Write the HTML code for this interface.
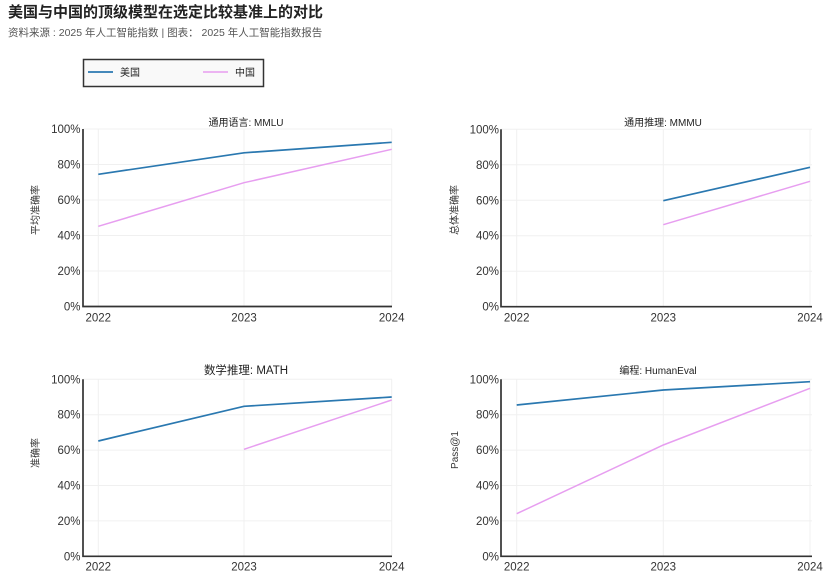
<!DOCTYPE html>
<html>
<head>
<meta charset="utf-8">
<style>
html,body{margin:0;padding:0;background:#fff;}
body{width:830px;height:578px;overflow:hidden;font-family:"Liberation Sans","Noto Sans CJK SC",sans-serif;}
</style>
</head>
<body>
<svg width="830" height="578" viewBox="0 0 830 578" xmlns="http://www.w3.org/2000/svg" style="display:block;font-family:'Liberation Sans','Noto Sans CJK SC',sans-serif;">
  <rect width="830" height="578" fill="#fff"/>
  <!-- Title -->
  <text x="8" y="17" font-size="15" font-weight="bold" fill="#222">美国与中国的顶级模型在选定比较基准上的对比</text>
  <text x="8" y="36" font-size="10.5" fill="#555">资料来源 : 2025 年人工智能指数 | 图表： 2025 年人工智能指数报告</text>

  <!-- Legend -->
  <rect x="83.5" y="59.5" width="180" height="27" fill="#f9f9f9" stroke="#333" stroke-width="1.5"/>
  <line x1="88" y1="72" x2="113" y2="72" stroke="#2a78b0" stroke-width="1.8"/>
  <text x="120" y="76" font-size="10" fill="#222">美国</text>
  <line x1="203" y1="72" x2="228" y2="72" stroke="#e79ef0" stroke-width="1.6"/>
  <text x="235" y="76" font-size="10" fill="#222">中国</text>

  <!-- ========== Chart 1 ========== -->
  <g>
    <g stroke="#f0f0f0" stroke-width="1">
      <line x1="83" y1="129" x2="392" y2="129"/>
      <line x1="83" y1="164.5" x2="392" y2="164.5"/>
      <line x1="83" y1="200" x2="392" y2="200"/>
      <line x1="83" y1="235.5" x2="392" y2="235.5"/>
      <line x1="83" y1="271" x2="392" y2="271"/>
      <line x1="98.3" y1="129" x2="98.3" y2="306.5"/>
      <line x1="244" y1="129" x2="244" y2="306.5"/>
      <line x1="391.7" y1="129" x2="391.7" y2="306.5"/>
    </g>
    <text x="246" y="126" font-size="10" fill="#222" text-anchor="middle">通用语言: MMLU</text>
    <g font-size="11.5" fill="#333" text-anchor="end">
      <text x="80.5" y="133">100%</text>
      <text x="80.5" y="168.5">80%</text>
      <text x="80.5" y="204">60%</text>
      <text x="80.5" y="239.5">40%</text>
      <text x="80.5" y="275">20%</text>
      <text x="80.5" y="310.5">0%</text>
    </g>
    <g font-size="11.5" fill="#333" text-anchor="middle">
      <text x="98.3" y="321.5">2022</text>
      <text x="244" y="321.5">2023</text>
      <text x="391.7" y="321.5">2024</text>
    </g>
    <text transform="translate(39,210) rotate(-90)" font-size="10" fill="#333" text-anchor="middle">平均准确率</text>
    <polyline points="98.3,174.3 244,152.8 391.7,142.3" fill="none" stroke="#2a78b0" stroke-width="1.7"/>
    <polyline points="98.3,226.3 244,182.7 391.7,149.3" fill="none" stroke="#e79ef0" stroke-width="1.5"/>
    <path d="M83,129 V306.5 H392" fill="none" stroke="#333" stroke-width="1.7"/>
  </g>

  <!-- ========== Chart 2 ========== -->
  <g>
    <g stroke="#f0f0f0" stroke-width="1">
      <line x1="501" y1="129.3" x2="812" y2="129.3"/>
      <line x1="501" y1="164.8" x2="812" y2="164.8"/>
      <line x1="501" y1="200.3" x2="812" y2="200.3"/>
      <line x1="501" y1="235.7" x2="812" y2="235.7"/>
      <line x1="501" y1="271.2" x2="812" y2="271.2"/>
      <line x1="516.7" y1="129.3" x2="516.7" y2="306.7"/>
      <line x1="663.3" y1="129.3" x2="663.3" y2="306.7"/>
      <line x1="810" y1="129.3" x2="810" y2="306.7"/>
    </g>
    <text x="663" y="126" font-size="10" fill="#222" text-anchor="middle">通用推理: MMMU</text>
    <g font-size="11.5" fill="#333" text-anchor="end">
      <text x="499" y="133.3">100%</text>
      <text x="499" y="168.8">80%</text>
      <text x="499" y="204.3">60%</text>
      <text x="499" y="239.7">40%</text>
      <text x="499" y="275.2">20%</text>
      <text x="499" y="310.7">0%</text>
    </g>
    <g font-size="11.5" fill="#333" text-anchor="middle">
      <text x="516.7" y="321.5">2022</text>
      <text x="663.3" y="321.5">2023</text>
      <text x="810" y="321.5">2024</text>
    </g>
    <text transform="translate(458,210) rotate(-90)" font-size="10" fill="#333" text-anchor="middle">总体准确率</text>
    <polyline points="663.3,200.7 810,167.3" fill="none" stroke="#2a78b0" stroke-width="1.7"/>
    <polyline points="663.3,224.7 810,181.3" fill="none" stroke="#e79ef0" stroke-width="1.5"/>
    <path d="M501,129.3 V306.7 H812" fill="none" stroke="#333" stroke-width="1.7"/>
  </g>

  <!-- ========== Chart 3 ========== -->
  <g>
    <g stroke="#f0f0f0" stroke-width="1">
      <line x1="83" y1="379.3" x2="392" y2="379.3"/>
      <line x1="83" y1="414.7" x2="392" y2="414.7"/>
      <line x1="83" y1="450.1" x2="392" y2="450.1"/>
      <line x1="83" y1="485.5" x2="392" y2="485.5"/>
      <line x1="83" y1="520.9" x2="392" y2="520.9"/>
      <line x1="98.3" y1="379.3" x2="98.3" y2="556.3"/>
      <line x1="244" y1="379.3" x2="244" y2="556.3"/>
      <line x1="391.7" y1="379.3" x2="391.7" y2="556.3"/>
    </g>
    <text x="246" y="374" font-size="11.5" fill="#222" text-anchor="middle">数学推理: MATH</text>
    <g font-size="11.5" fill="#333" text-anchor="end">
      <text x="80.5" y="383.3">100%</text>
      <text x="80.5" y="418.7">80%</text>
      <text x="80.5" y="454.1">60%</text>
      <text x="80.5" y="489.5">40%</text>
      <text x="80.5" y="524.9">20%</text>
      <text x="80.5" y="560.3">0%</text>
    </g>
    <g font-size="11.5" fill="#333" text-anchor="middle">
      <text x="98.3" y="570.5">2022</text>
      <text x="244" y="570.5">2023</text>
      <text x="391.7" y="570.5">2024</text>
    </g>
    <text transform="translate(39,453) rotate(-90)" font-size="10" fill="#333" text-anchor="middle">准确率</text>
    <polyline points="98.3,441 244,406.3 391.7,397" fill="none" stroke="#2a78b0" stroke-width="1.7"/>
    <polyline points="244,449.3 391.7,400" fill="none" stroke="#e79ef0" stroke-width="1.5"/>
    <path d="M83,379.3 V556.3 H392" fill="none" stroke="#333" stroke-width="1.7"/>
  </g>

  <!-- ========== Chart 4 ========== -->
  <g>
    <g stroke="#f0f0f0" stroke-width="1">
      <line x1="501" y1="379.3" x2="812" y2="379.3"/>
      <line x1="501" y1="414.7" x2="812" y2="414.7"/>
      <line x1="501" y1="450.1" x2="812" y2="450.1"/>
      <line x1="501" y1="485.5" x2="812" y2="485.5"/>
      <line x1="501" y1="520.9" x2="812" y2="520.9"/>
      <line x1="516.7" y1="379.3" x2="516.7" y2="556.3"/>
      <line x1="663.3" y1="379.3" x2="663.3" y2="556.3"/>
      <line x1="810" y1="379.3" x2="810" y2="556.3"/>
    </g>
    <text x="658" y="374" font-size="10" fill="#222" text-anchor="middle">编程: HumanEval</text>
    <g font-size="11.5" fill="#333" text-anchor="end">
      <text x="499" y="383.3">100%</text>
      <text x="499" y="418.7">80%</text>
      <text x="499" y="454.1">60%</text>
      <text x="499" y="489.5">40%</text>
      <text x="499" y="524.9">20%</text>
      <text x="499" y="560.3">0%</text>
    </g>
    <g font-size="11.5" fill="#333" text-anchor="middle">
      <text x="516.7" y="570.5">2022</text>
      <text x="663.3" y="570.5">2023</text>
      <text x="810" y="570.5">2024</text>
    </g>
    <text transform="translate(458,450) rotate(-90)" font-size="10" fill="#333" text-anchor="middle">Pass@1</text>
    <polyline points="516.7,405 663.3,390 810,381.7" fill="none" stroke="#2a78b0" stroke-width="1.7"/>
    <polyline points="516.7,513.7 663.3,445 810,388.3" fill="none" stroke="#e79ef0" stroke-width="1.5"/>
    <path d="M501,379.3 V556.3 H812" fill="none" stroke="#333" stroke-width="1.7"/>
  </g>
</svg>
</body>
</html>
